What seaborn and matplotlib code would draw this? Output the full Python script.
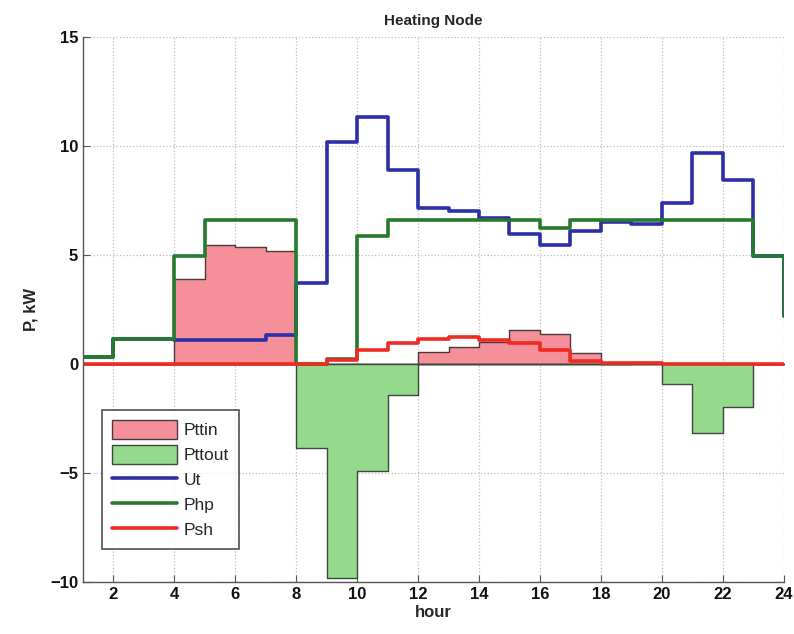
import matplotlib
matplotlib.use("Agg")
import matplotlib.pyplot as plt
import seaborn as sns
import pandas as pd

# hourly values, hour 1..24 (stairs: value i holds from hour i to i+1)
hours = list(range(1, 25))
ut = [0.3, 1.15, 1.15, 1.12, 1.12, 1.12, 1.35, 3.7, 10.2, 11.35, 8.9, 7.15,
      7.0, 6.7, 5.97, 5.48, 6.1, 6.5, 6.43, 7.4, 9.66, 8.46, 4.97, 2.2]
php = [0.3, 1.15, 1.15, 4.97, 6.6, 6.6, 6.6, 0.0, 0.25, 5.85, 6.6, 6.6,
       6.6, 6.6, 6.6, 6.25, 6.6, 6.6, 6.6, 6.6, 6.6, 6.6, 4.97, 2.2]
psh = [0, 0, 0, 0, 0, 0, 0, 0, 0.2, 0.66, 0.95, 1.13,
       1.24, 1.1, 0.98, 0.63, 0.14, 0.05, 0.05, 0, 0, 0, 0, 0]
pttin = [0, 0, 0, 3.9, 5.48, 5.38, 5.2, 0, 0, 0, 0, 0.57,
         0.78, 1.02, 1.56, 1.36, 0.52, 0, 0.1, 0, 0, 0, 0, 0]
pttout = [0, 0, 0, 0, 0, 0, 0, -3.84, -9.8, -4.9, -1.4, 0,
          0, 0, 0, 0, 0, 0, 0, -0.93, -3.15, -1.96, 0, 0]

df = pd.DataFrame({"hour": hours, "Ut": ut, "Php": php, "Psh": psh,
                   "Pttin": pttin, "Pttout": pttout})

sns.set_style("white")
plt.rcParams["font.family"] = ["Liberation Sans", "DejaVu Sans"]

fig = plt.figure(figsize=(7.94, 6.34), dpi=100)
ax = fig.add_axes([0.1045, 0.082, 0.8825, 0.8596])

# stored energy in / out as filled stairs
ax.fill_between(df["hour"], 0, df["Pttin"], step="post", facecolor="#f58f9a",
                edgecolor="#4a3a3a", linewidth=1.0, label="Pttin")
ax.fill_between(df["hour"], 0, df["Pttout"], step="post", facecolor="#95d98d",
                edgecolor="#3a4a3a", linewidth=1.0, label="Pttout")

line_colors = {"Ut": "#2b2fa8", "Php": "#267a2e", "Psh": "#ee2a22"}
for name, col in line_colors.items():
    sns.lineplot(data=df, x="hour", y=name, drawstyle="steps-post", color=col,
                 linewidth=2.6, label=name, ax=ax)

ax.set_xlim(1, 24)
ax.set_ylim(-10, 15)
ax.set_xticks(range(2, 25, 2))
ax.set_yticks(range(-10, 16, 5))
ax.grid(True, linestyle=":", color="#bcbcbc", linewidth=0.9)
for s in ["top", "right"]:
    ax.spines[s].set_visible(False)
for s in ["left", "bottom"]:
    ax.spines[s].set_color("#555555")
    ax.spines[s].set_linewidth(1.0)
ax.tick_params(direction="in", length=5, color="#555555", labelsize=12,
               labelcolor="#111111", left=True, bottom=True)
for lab in ax.get_xticklabels() + ax.get_yticklabels():
    lab.set_fontweight("bold")

ax.set_title("Heating Node", fontsize=11, fontweight="bold", pad=9)
ax.set_xlabel("hour", fontsize=12, fontweight="bold", labelpad=2)
ax.set_ylabel("P, kW", fontsize=12, fontweight="bold", labelpad=8)

leg = ax.legend(loc="lower left", bbox_to_anchor=(0.027, 0.06), fontsize=12.5,
                frameon=True, fancybox=False, edgecolor="#222222",
                handlelength=3.7, handleheight=1.3, labelspacing=0.35,
                handletextpad=0.4, borderpad=0.6, borderaxespad=0)
leg.get_frame().set_linewidth(1.2)

fig.savefig("out.png", dpi=100)
